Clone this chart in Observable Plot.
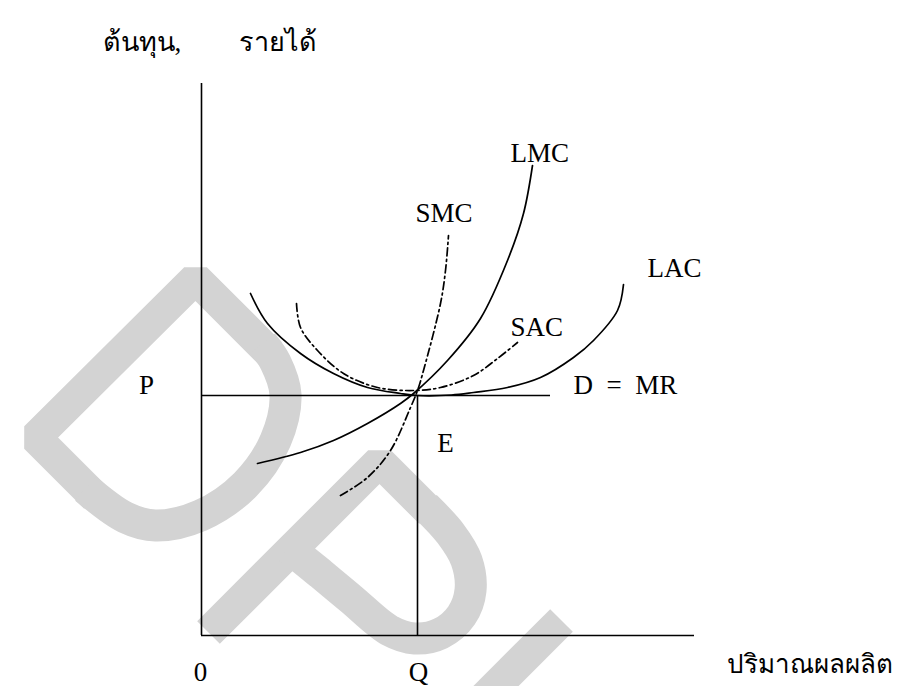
<!DOCTYPE html>
<html><head><meta charset="utf-8">
<script src="https://cdn.jsdelivr.net/npm/d3@7"></script>
<script src="https://cdn.jsdelivr.net/npm/@observablehq/plot@0.6"></script>
<style>html,body{margin:0;padding:0;background:#fff;overflow:hidden} svg text{font-family:"Liberation Serif","Times New Roman",serif}</style>
</head><body><div id="chart"></div>
<script>
// ---- data (quantity on x, cost/revenue on y; origin = 0) ----
const priceP = 48;
const quantityQ = 43.2;
const axisXEnd = 98.6;
const axisYEnd = 110.4;
const demandEnd = 69.8;

const LAC = [[9.8,68.4],[13.2,62.4],[19.8,56.4],[26.4,52.4],[33.2,49.6],[39.8,48.4],[43.2,48],[50,48.1],[54.4,48.6],[61.2,49.6],[67.8,51.6],[74.4,55.6],[78.4,59],[83.2,65],[84.4,70.2]];
const SAC = [[19,66.4],[19.8,61.6],[23.2,57],[28.4,52.4],[35.2,49.6],[42.4,49],[47.8,49.6],[54.4,52],[59.2,55.4],[63.2,58.6]];
const LMC = [[11.2,34.4],[19.8,36.6],[26.4,39],[33.2,42.4],[39.8,46.4],[42.4,48.4],[49.2,55],[55.8,63.4],[61.2,75],[64.4,84.4],[66.2,94]];
const SMC = [[27.8,28],[33.2,31.6],[37.8,37],[41.8,45.6],[43.2,49],[44.4,53],[47.8,66.4],[48.8,73],[49.4,80]];

// labels whose left edge is given
const leftText = ["ต้นทุน,", "รายได้", "D\u00a0\u00a0=\u00a0\u00a0MR", "LMC", "SMC", "LAC", "SAC"];
const leftX    = [-19.8, 7.4, 74.4, 61.8, 42.8, 89.2, 61.8];
const leftY    = [118.6, 118.6, 50, 96.4, 84.4, 73.4, 61.6];
// x-axis title
const xTitle = ["ปริมาณผลผลิต"];
const xTitleX = [105.0];
const xTitleY = [-5.8];
// labels whose centre is given
const midText = ["0", "Q", "P", "E"];
const midX    = [-0.2, 43.4, -11, 48.8];
const midY    = [-7.4, -7.4, 50, 38.4];

// watermark strokes (light grey "DPU" letters)
const wmD1 = [[-21.2,27.6],[-33.2,39.6],[-1.2,71.4],[13.8,56.4]];
const wmD2 = [[-23.2,29.4],[-15.2,23.6],[-9.2,22],[-0.2,24],[8.8,30.2],[14.8,39],[16.8,48.2],[14.8,54.6],[12.2,58.4]];
const wmP1 = [[1.4,0.6],[35.6,34.8],[45.8,24.6]];
const wmP2 = [[44.8,25.8],[49.8,20.4],[53,15],[53.8,9],[52,4],[47.8,0.4],[42.6,-0.6],[37.6,1],[29.8,7.4],[23.8,12.4],[17.4,17.6]];
const wmU1 = [[72,3],[47.8,-21.2]];

const FONT = "Liberation Serif";
const leftLabels = leftText.map((t,i) => ({t, x: leftX[i], y: leftY[i]}));
const titleLabels = xTitle.map((t,i) => ({t, x: xTitleX[i], y: xTitleY[i]}));
const midLabels = midText.map((t,i) => ({t, x: midX[i], y: midY[i]}));
const wm = (data, curve) => Plot.line(data, {x: d => d[0], y: d => d[1], stroke: "#d3d3d3", strokeWidth: 32, strokeLinejoin: "miter", strokeLinecap: "butt", curve});
const curveLine = (data, dashed) => Plot.line(data, {x: d => d[0], y: d => d[1], stroke: "#000", strokeWidth: 1.7, curve: "catmull-rom", strokeDasharray: dashed ? "8,3.5,2,3.5" : null});

const chart = Plot.plot({
  width: 897, height: 686, margin: 0,
  x: {domain: [-40.2, 139.2], axis: null},
  y: {domain: [-10.2, 127], axis: null},
  style: {background: "white", fontFamily: FONT},
  marks: [
    wm(wmD1, "linear"), wm(wmD2, "catmull-rom"),
    wm(wmP1, "linear"), wm(wmP2, "catmull-rom"),
    wm(wmU1, "linear"),
    Plot.ruleX([0], {y1: 0, y2: axisYEnd, stroke: "#000", strokeWidth: 1.6}),
    Plot.ruleY([0], {x1: 0, x2: axisXEnd, stroke: "#000", strokeWidth: 1.6}),
    Plot.ruleY([priceP], {x1: 0, x2: demandEnd, stroke: "#000", strokeWidth: 1.6}),
    Plot.ruleX([quantityQ], {y1: 0, y2: priceP, stroke: "#000", strokeWidth: 1.6}),
    curveLine(LAC, false), curveLine(LMC, false),
    curveLine(SAC, true), curveLine(SMC, true),
    Plot.text(leftLabels, {x: "x", y: "y", text: "t", textAnchor: "start", fontSize: 27, fill: "#000", fontFamily: FONT}),
    Plot.text(titleLabels, {x: "x", y: "y", text: "t", textAnchor: "start", fontSize: 26, fill: "#000", fontFamily: FONT}),
    Plot.text(midLabels, {x: "x", y: "y", text: "t", textAnchor: "middle", fontSize: 27, fill: "#000", fontFamily: FONT})
  ]
});
document.getElementById("chart").appendChild(chart);
</script></body></html>
